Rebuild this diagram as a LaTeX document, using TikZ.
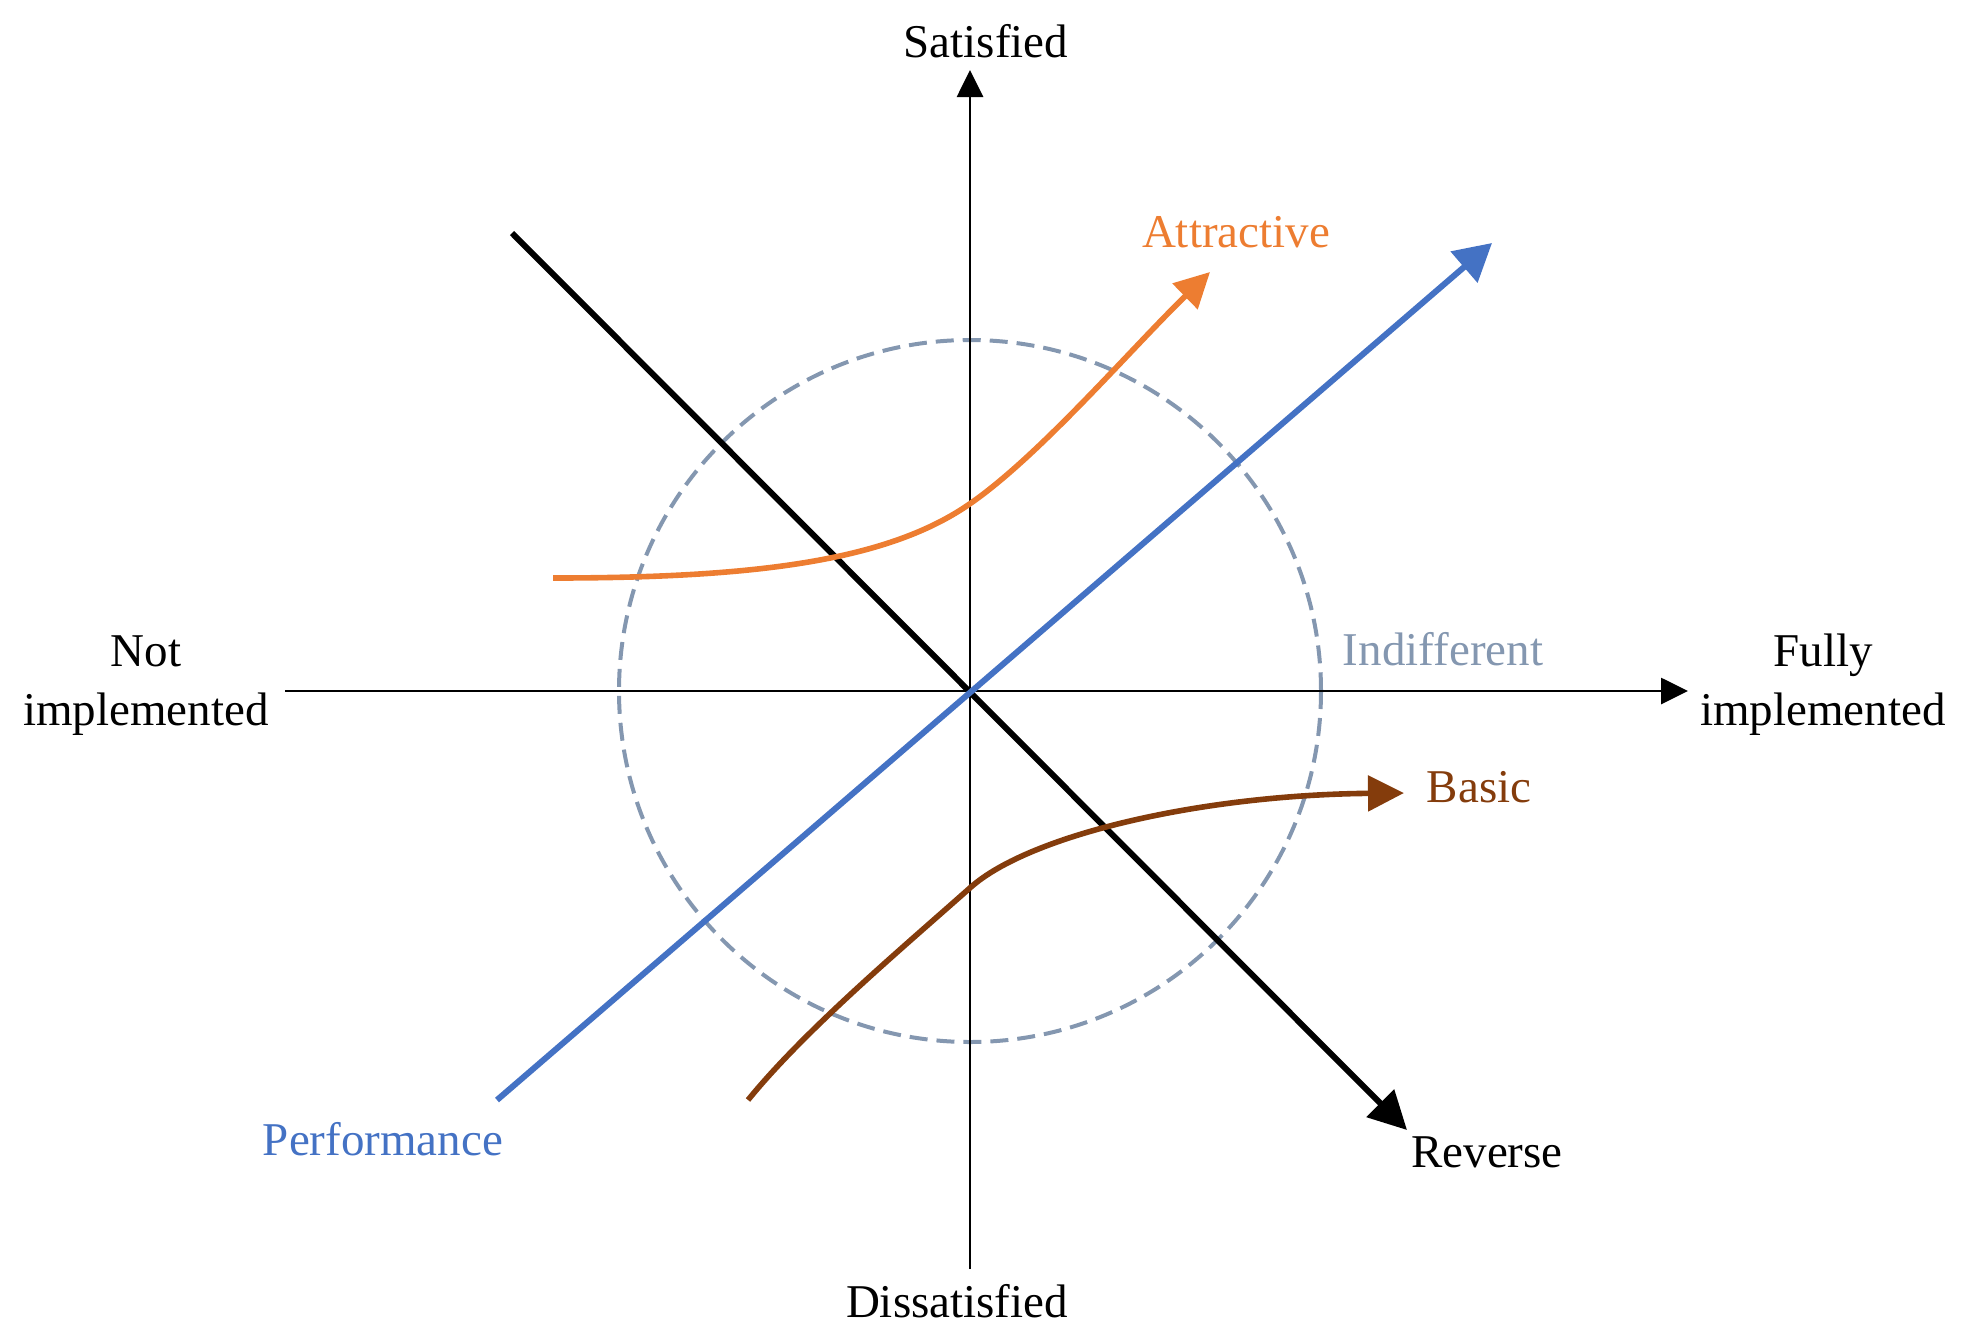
\documentclass[tikz,border=0pt]{standalone}
\usepackage{fontspec}
\setmainfont{Liberation Serif}
\usetikzlibrary{arrows.meta}
\definecolor{korange}{HTML}{ED7D31}
\definecolor{kblue}{HTML}{4472C4}
\definecolor{kbrown}{HTML}{843C0C}
\definecolor{kgray}{HTML}{8497B0}
\tikzset{
  lbl/.style={inner sep=0pt, font=\fontsize{23.5pt}{29.5pt}\selectfont},
  axisline/.style={draw=black, line width=1.4pt, -{Triangle[length=13.5pt,width=13pt]}},
  revline/.style={draw=black, line width=3pt, -{Triangle[length=19pt,width=19pt]}},
  perfline/.style={draw=kblue, line width=3pt, -{Triangle[length=18.5pt,width=20pt]}},
  attrline/.style={draw=korange, line width=2.8pt, -{Triangle[length=17.5pt,width=17.5pt]}},
  basicline/.style={draw=kbrown, line width=2.8pt, -{Triangle[length=18pt,width=17.5pt]}},
  indiffcircle/.style={draw=kgray, line width=2pt, dash pattern=on 9pt off 4.5pt},
}
\begin{document}
\begin{tikzpicture}[x=0.5pt,y=-0.5pt]
\useasboundingbox (0,0) rectangle (1961,1340);
% anchor coordinates
\coordinate (O) at (970,691);
\coordinate (xl) at (285,691);
\coordinate (xr) at (1688,691);
\coordinate (yb) at (970,1269);
\coordinate (yt) at (970,70);
\coordinate (rs) at (512,233);
\coordinate (re) at (1407,1130);
\coordinate (ps) at (497,1100);
\coordinate (pe) at (1492,243);
\coordinate (as) at (553,578);
\coordinate (am) at (971,503);
\coordinate (ae) at (1210,272);
\coordinate (bs) at (748,1100);
\coordinate (bm) at (971,887);
\coordinate (be) at (1404,793);
% indifferent circle
\draw[indiffcircle] (O) circle[radius=351];
% axes
\draw[axisline] (xl) -- (xr);
\draw[axisline] (yb) -- (yt);
% reverse
\draw[revline] (rs) -- (re);
% performance
\draw[perfline] (ps) -- (pe);
% attractive
\draw[attrline] (as) .. controls (760,578) and (890,560) .. (am)
  .. controls (1040,455) and (1130,350) .. (ae);
% basic
\draw[basicline] (bs) .. controls (805,1030) and (900,950) .. (bm)
  .. controls (1030,835) and (1200,795) .. (be);
% labels
\node[lbl, anchor=base] (sat) at (986,57) {Satisfied};
\node[lbl, anchor=base] (dis) at (957,1317) {Dissatisfied};
\node[lbl, anchor=base, align=center] (notimp) at (146,725) {Not\\implemented};
\node[lbl, anchor=base, align=center] (fullimp) at (1823,725) {Fully\\implemented};
\node[lbl, anchor=base, text=korange] (attr) at (1236,247) {Attractive};
\node[lbl, anchor=base, text=kgray] (indiff) at (1443,665) {Indifferent};
\node[lbl, anchor=base, text=kbrown] (basic) at (1479,802) {Basic};
\node[lbl, anchor=base, text=kblue] (perf) at (383,1155) {Performance};
\node[lbl, anchor=base] (rev) at (1487,1167) {Reverse};
\end{tikzpicture}
\end{document}
